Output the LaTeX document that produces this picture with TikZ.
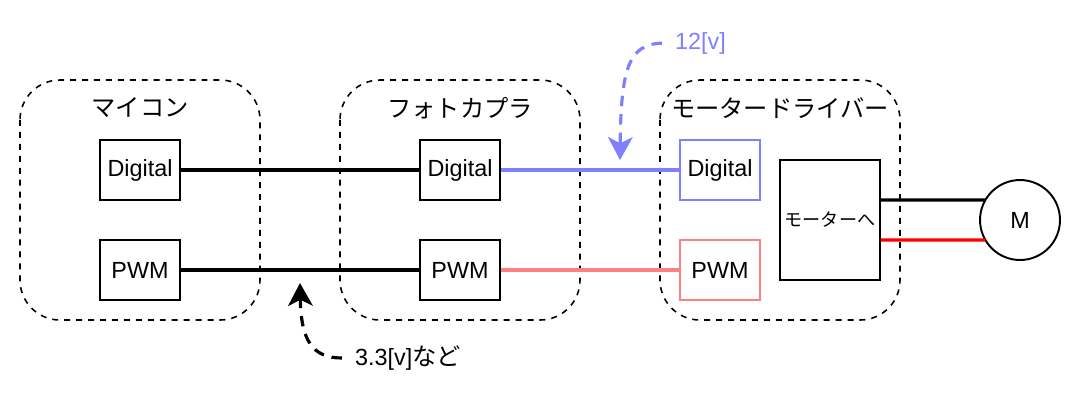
\documentclass[tikz,border=0pt]{standalone}
\usepackage{fontspec}
\setmainfont{Liberation Sans}
\newfontfamily\jp{Noto Sans CJK JP}
\usetikzlibrary{arrows.meta}

\definecolor{sigblue}{HTML}{8080FF}
\definecolor{sigpink}{HTML}{FF8080}

\tikzset{
  group/.style={draw, line width=0.9pt, dash pattern=on 3.4pt off 3.4pt, rounded corners=0.8cm},
  title/.style={font=\jp\fontsize{13.8}{16}\selectfont},
  blk/.style={draw, line width=1.1pt, minimum width=1.6cm, minimum height=1.2cm,
    inner sep=0pt, font=\fontsize{13.3}{16}\selectfont},
  wire/.style={line width=1.8pt},
  note/.style={line width=1.8pt, dash pattern=on 6pt off 4.5pt, shorten <=4pt,
    -{Stealth[length=13pt,width=14pt,inset=3.5pt]}},
}

\begin{document}
\begin{tikzpicture}[x=0.02cm, y=-0.02cm]
  \useasboundingbox (0,0) rectangle (1084,400);

  % ---- Groups ----
  \draw[group] (20,80) rectangle (260,320);
  \draw[group] (340,80) rectangle (580,320);
  \draw[group] (660,80) rectangle (900,320);
  \node[title] (tMicon) at (140,108) {マイコン};
  \node[title] (tPhoto) at (460,108) {フォトカプラ};
  \node[title] (tDriver) at (780,108) {モータードライバー};

  % ---- Blocks ----
  \node[blk] (mDig) at (140,170) {Digital};
  \node[blk] (mPwm) at (140,270) {PWM};
  \node[blk] (pDig) at (460,170) {Digital};
  \node[blk] (pPwm) at (460,270) {PWM};
  \node[blk, draw=sigblue] (dDig) at (720,170) {Digital};
  \node[blk, draw=sigpink] (dPwm) at (720,270) {PWM};
  \node[blk, minimum width=2cm, minimum height=2.4cm,
    font=\jp\fontsize{10.3}{12}\selectfont] (drv) at (830,220) {モーターへ};
  \node[draw, circle, line width=1.1pt, minimum size=1.6cm, inner sep=0pt, outer sep=0pt,
    font=\fontsize{13.3}{16}\selectfont] (mot) at (1020,220) {M};

  % ---- Wires ----
  \draw[wire] (mDig) -- (pDig);
  \draw[wire] (mPwm) -- (pPwm);
  \draw[wire, sigblue] (pDig) -- (dDig);
  \draw[wire, sigpink] (pPwm) -- (dPwm);
  \draw[wire] ([yshift=0.4cm]drv.east) -- (mot.150);
  \draw[wire, red] ([yshift=-0.4cm]drv.east) -- (mot.210);

  % ---- Voltage notes ----
  \node[anchor=west, text=sigblue, font=\fontsize{13.3}{16}\selectfont] (t12) at (669,43) {12[v]};
  \coordinate (a12) at (620,160);
  \draw[note, sigblue] (t12.west) .. controls (628,44) and (621,70) .. (a12);

  \node[anchor=west, font=\fontsize{13.3}{16}\selectfont] (t33) at (349,358) {3.3[v]{\jp\fontsize{13.8}{16}\selectfont など}};
  \coordinate (a33) at (300,283);
  \draw[note] (t33.west) .. controls (312,358) and (301,340) .. (a33);

\end{tikzpicture}
\end{document}
